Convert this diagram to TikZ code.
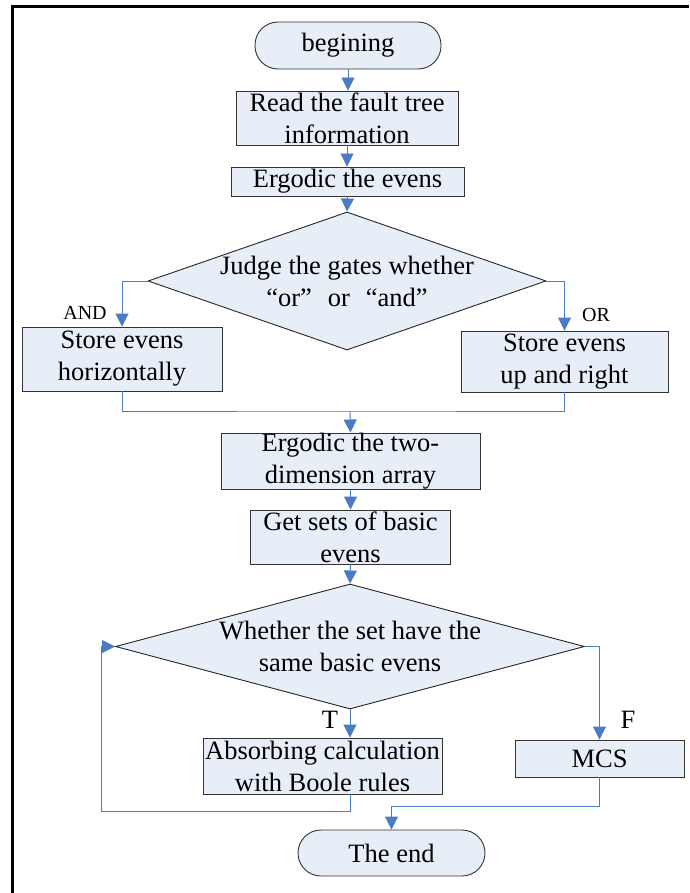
\documentclass[tikz,border=0pt]{standalone}
\usepackage{fontspec}
\setmainfont{Liberation Serif}
\usetikzlibrary{arrows.meta,shapes.geometric}
\definecolor{fillc}{HTML}{E8EEF7}
\definecolor{linec}{HTML}{4A7BC4}
\begin{document}
\begin{tikzpicture}[x=1pt,y=-1pt,
  box/.style={draw=black!80, fill=fillc, line width=0.9pt, inner sep=0pt, align=center, font=\fontsize{26.5}{32}\selectfont},
  term/.style={box, rounded corners=23pt},
  dec/.style={draw=black!85, fill=fillc, line width=0.9pt, diamond, inner sep=0pt},
  dectext/.style={align=center, inner sep=0pt, font=\fontsize{26.5}{32}\selectfont},
  conn/.style={draw=linec, line width=0.9pt},
  arr/.style={conn, -{Triangle[length=13pt,width=13pt]}},
  lbl/.style={font=\fontsize{20}{24}\selectfont, inner sep=0pt},
  biglbl/.style={font=\fontsize{26.5}{30}\selectfont, inner sep=0pt},
]
\useasboundingbox (0,0) rectangle (689,893);
\draw[line width=3pt] (12.5,893) -- (12.5,6.5) -- (689,6.5);

\node[term, minimum width=186, minimum height=47] (begin) at (348,45.5) {begining};
\node[box, minimum width=222, minimum height=54] (read) at (347,118) {Read the fault tree\\information};
\node[box, minimum width=233, minimum height=29] (erg) at (347.5,181.5) {Ergodic the evens};
\node[dec, minimum width=398, minimum height=138] (d1) at (347,281) {};
\node[dectext] (d1t) at (d1.center) {Judge the gates whether\\“or”\hspace{0.6em}or\hspace{0.6em}“and”};
\node[box, minimum width=200, minimum height=64] (andb) at (122,359) {Store evens\\horizontally};
\node[box, minimum width=207, minimum height=61] (orb) at (564.5,361.5) {Store evens\\up and right};
\node[lbl] (andl) at (85,313) {AND};
\node[lbl] (orl) at (596,315) {OR};
\coordinate (m) at (350,411);
\node[box, minimum width=259, minimum height=56] (erg2) at (350.5,461) {Ergodic the two-\\dimension array};
\node[box, minimum width=200, minimum height=54] (get) at (350.5,537) {Get sets of basic\\evens};
\node[dec, minimum width=469, minimum height=125] (d2) at (350,646.5) {};
\node[dectext] (d2t) at (d2.center) {Whether the set have the\\same basic evens};
\node[box, minimum width=239, minimum height=56] (abs) at (322.5,766) {Absorbing calculation\\with Boole rules};
\node[box, minimum width=169, minimum height=37] (mcs) at (599.5,758.5) {MCS};
\node[term, minimum width=187, minimum height=46] (end) at (391.5,853) {The end};
\node[biglbl] (tl) at (330,720) {T};
\node[biglbl] (fl) at (628,720) {F};
\coordinate (e1) at (391.5,806);
\coordinate (lp) at (101,811);

\draw[arr] (begin.south) -- (begin.south |- read.north);
\draw[arr] (read.south) -- (read.south |- erg.north);
\draw[arr] (erg.south) -- (d1.north);
\draw[arr] (d1.west) -| (andb.north);
\draw[arr] (d1.east) -| (orb.north);
\draw[conn] (andb.south) |- (m) -| (orb.south);
\draw[arr] (m) -- (erg2.north);
\draw[arr] (erg2.south) -- (get.north);
\draw[arr] (get.south) -- (d2.north);
\draw[arr] (d2.south) -- (d2.south |- abs.north);
\draw[arr] (d2.east) -| (mcs.north);
\draw[arr] (mcs.south) |- (e1) -- (end.north);
\draw[arr] (d2.south |- abs.south) |- (lp) |- (d2.west);
\end{tikzpicture}
\end{document}
